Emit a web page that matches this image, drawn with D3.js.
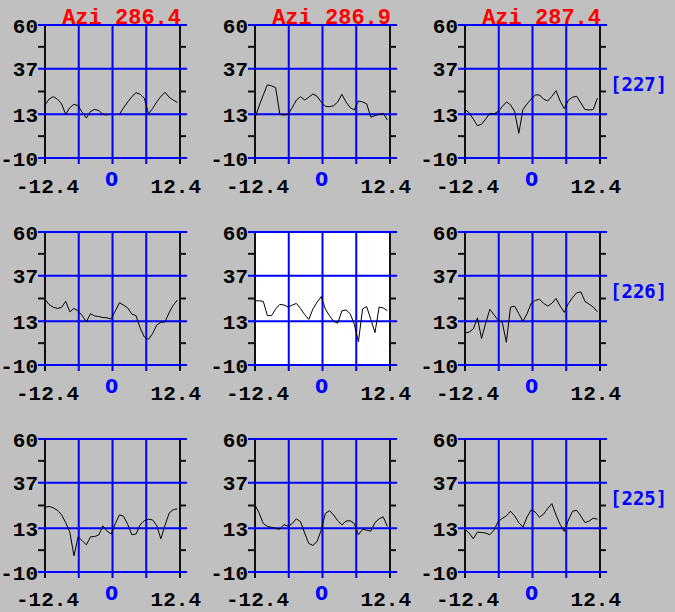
<!DOCTYPE html>
<html>
<head>
<meta charset="utf-8">
<script src="https://cdn.jsdelivr.net/npm/d3@7/dist/d3.min.js"></script>
<style>
  html, body { margin: 0; padding: 0; background: #c0c0c0; }
  svg { display: block; }
  .tick { font-family: 'Liberation Mono', 'Courier New', monospace; font-weight: bold; font-size: 21px; fill: #000; }
  .azi { font-family: 'Liberation Mono', 'Courier New', monospace; font-weight: bold; font-size: 22px; fill: #ff0000; }
  .zero { font-family: 'DejaVu Sans', sans-serif; font-weight: bold; font-size: 19px; fill: #0000ff; }
  .row { font-family: 'DejaVu Sans Mono', monospace; font-weight: bold; font-size: 19px; fill: #0000ff; }
</style>
</head>
<body>
<div class="canvas"></div>
<script>
// ---- data ----
const aziLabels = ['Azi 286.4', 'Azi 286.9', 'Azi 287.4'];
const rowLabels = ['[227]', '[226]', '[225]'];

const yTicks = [60, 37, 13, -10];
const yMinor = [48.5, 25, 1.5];
const xTicks = [-12.4, -6.2, 0, 6.2, 12.4];

// lag of every sample (shared by all traces)
const lags = [-12.40, -11.64, -10.88, -10.12, -9.36, -8.60, -7.84, -7.08, -6.32, -5.56,
  -4.80, -4.04, -3.28, -2.52, -1.76, -1.00, -0.24, 0.52, 1.28, 2.04, 2.80, 3.56, 4.32,
  5.08, 5.84, 6.60, 7.36, 8.12, 8.88, 9.64, 10.40, 11.16, 11.92];

// row [227]
const tr227a = [17.9, 21.0, 22.3, 21.0, 18.5, 13.0, 16.5, 18.3, 17.5, 14.0, 11.0, 14.5, 15.6,
  15.0, 13.0, 12.6, null, null, 13.0, 16.5, 19.5, 22.3, 24.4, 23.5, 21.5, 13.2, 16.0, 19.5,
  22.3, 24.6, 22.0, 20.5, 19.3];
const tr227b = [11.0, 17.5, 23.2, 28.5, 28.0, 27.0, 13.0, 12.6, 13.0, 16.5, 20.5, 22.3, 20.5,
  22.0, 23.7, 22.5, 19.5, 17.2, 17.0, 17.5, 19.5, 23.5, 19.5, 16.5, 15.3, 20.0, 19.5, 18.5,
  11.5, 12.3, 13.0, 13.5, 10.0];
const tr227c = [15.6, 13.8, 10.5, 7.0, 7.8, 10.5, 13.5, 13.2, 14.5, 17.0, 19.5, 18.0, 14.5,
  3.0, 15.5, 18.5, 21.0, 23.2, 23.2, 21.0, 20.0, 22.5, 25.4, 20.0, 16.0, 20.5, 22.0, 22.5,
  19.0, 15.5, 15.3, 15.5, 21.5];

// row [226]
const tr226a = [24.6, 21.8, 20.4, 19.8, 20.3, 23.5, 18.0, 19.8, 18.5, 16.0, 12.7, 17.0, 15.8,
  15.5, 15.0, 14.8, 14.2, 18.5, 22.8, 21.5, 20.0, 16.8, 16.0, 9.5, 4.8, 3.5, 6.5, 11.0,
  12.5, 12.7, 17.5, 21.5, 24.2];
const tr226b = [23.8, 23.8, 23.5, 16.0, 16.0, 19.5, 21.9, 21.6, 20.5, 21.5, 22.4, 19.8, 16.5,
  14.0, 19.5, 23.0, 26.0, 19.5, 16.0, 13.0, 12.0, 18.5, 19.0, 17.0, 11.5, 2.2, 19.5, 20.7,
  14.0, 7.0, 20.5, 20.0, 18.6];
const tr226c = [7.0, 7.3, 9.0, 14.8, 4.0, 12.0, 19.3, 16.5, 13.5, 12.5, 2.0, 20.5, 21.0,
  17.0, 13.0, 17.0, 22.5, 24.0, 24.6, 22.5, 21.0, 22.5, 25.0, 21.0, 17.7, 22.4, 25.5, 28.0,
  28.5, 23.5, 22.0, 20.5, 18.0];

// row [225]
const tr225a = [24.1, 24.5, 23.8, 22.5, 20.1, 16.0, 11.0, -1.5, 8.5, 6.5, 4.3, 8.5, 8.7,
  9.5, 14.3, 11.5, 10.0, 15.5, 20.1, 19.3, 15.0, 9.6, 10.0, 14.8, 17.0, 17.8, 17.4, 14.5,
  7.5, 14.5, 21.0, 22.8, 23.2];
const tr225b = [25.3, 21.0, 15.5, 14.0, 13.5, 13.0, 12.5, 15.0, 14.0, 15.5, 18.0, 16.5, 10.5,
  5.0, 4.0, 6.0, 12.0, 20.8, 22.3, 20.0, 17.0, 14.8, 16.8, 17.0, 15.5, 9.6, 12.5, 12.0,
  11.5, 16.0, 18.0, 19.0, 14.0];
const tr225c = [12.5, 10.5, 7.5, 11.0, 10.8, 10.5, 9.6, 12.0, 16.5, 18.2, 19.5, 22.0, 19.5,
  16.0, 13.6, 19.0, 22.7, 21.5, 18.8, 20.5, 23.5, 26.0, 20.0, 15.0, 11.3, 17.4, 22.0, 22.5,
  19.5, 16.0, 16.8, 18.3, 17.8];

const traces = [
  [tr227a, tr227b, tr227c],
  [tr226a, tr226b, tr226c],
  [tr225a, tr225b, tr225c]
];

// ---- layout ----
const dims = { w: 675, h: 612, pw: 135, ph: 133 };
const colX = [45, 255, 465];
const rowY = [25, 232, 439];
const highlight = { r: 1, c: 1 };

const svg = d3.select('.canvas')
  .append('svg')
    .attr('width', dims.w)
    .attr('height', dims.h);

svg.append('rect')
  .attr('width', dims.w)
  .attr('height', dims.h)
  .attr('fill', '#c0c0c0');

const x = d3.scaleLinear().domain([-12.4, 12.4]).range([0, dims.pw]);
const y = d3.scaleLinear().domain([-10, 60]).range([dims.ph, 0]);

const line = d3.line()
  .defined(d => d[1] !== null)
  .x(d => x(d[0]))
  .y(d => y(d[1]));

const fmtX = d => d === 0 ? '0' : d.toFixed(1);

traces.forEach((row, r) => {
  row.forEach((vals, c) => {
    const g = svg.append('g')
      .attr('transform', `translate(${colX[c]},${rowY[r]})`);

    if (r === highlight.r && c === highlight.c) {
      g.append('rect')
        .attr('width', dims.pw)
        .attr('height', dims.ph)
        .attr('fill', '#fff');
    }

    // black frame sides with bottom tick
    g.selectAll('line.axis')
      .data([x.range()[0], x.range()[1]])
      .enter().append('line')
        .attr('class', 'axis')
        .attr('x1', d => d).attr('x2', d => d)
        .attr('y1', 0).attr('y2', dims.ph + 6)
        .attr('stroke', '#111')
        .attr('stroke-width', 2);

    // minor ticks on both sides
    g.selectAll('line.minl')
      .data(yMinor)
      .enter().append('line')
        .attr('class', 'minl')
        .attr('x1', -7).attr('x2', 0)
        .attr('y1', d => y(d)).attr('y2', d => y(d))
        .attr('stroke', '#111')
        .attr('stroke-width', 2);

    g.selectAll('line.minr')
      .data(yMinor)
      .enter().append('line')
        .attr('class', 'minr')
        .attr('x1', dims.pw).attr('x2', dims.pw + 6)
        .attr('y1', d => y(d)).attr('y2', d => y(d))
        .attr('stroke', '#111')
        .attr('stroke-width', 2);

    // blue grid
    g.selectAll('line.gx')
      .data(xTicks.slice(1, -1))
      .enter().append('line')
        .attr('class', 'gx')
        .attr('x1', d => x(d)).attr('x2', d => x(d))
        .attr('y1', 0).attr('y2', dims.ph + 6)
        .attr('stroke', '#0000ff')
        .attr('stroke-width', 2);

    g.selectAll('line.gy')
      .data(yTicks)
      .enter().append('line')
        .attr('class', 'gy')
        .attr('x1', -7).attr('x2', dims.pw + 7)
        .attr('y1', d => y(d)).attr('y2', d => y(d))
        .attr('stroke', '#0000ff')
        .attr('stroke-width', 2);

    // trace
    g.append('path')
      .datum(lags.map((l, i) => [l, vals[i]]))
      .attr('d', line)
      .attr('fill', 'none')
      .attr('stroke', '#000')
      .attr('stroke-width', 1);

    // y tick labels
    g.selectAll('text.yt')
      .data(yTicks)
      .enter().append('text')
        .attr('class', 'tick')
        .attr('x', -7)
        .attr('y', d => y(d) + 7.5)
        .attr('text-anchor', 'end')
        .text(d => d);

    // x tick labels (kept inside the page at the bottom row)
    const xLabY = Math.min(dims.ph + 35, dims.h - rowY[r] - 6.5);

    g.append('text')
      .attr('class', 'tick')
      .attr('x', x(xTicks[0]) + 2.5)
      .attr('y', xLabY)
      .attr('text-anchor', 'middle')
      .text(fmtX(xTicks[0]));

    g.append('text')
      .attr('class', 'tick')
      .attr('x', x(xTicks[4]) + 21)
      .attr('y', xLabY)
      .attr('text-anchor', 'end')
      .text(fmtX(xTicks[4]));

    g.append('text')
      .attr('class', 'zero')
      .attr('x', x(0) - 1)
      .attr('y', dims.ph + 28)
      .attr('text-anchor', 'middle')
      .text(fmtX(0));

    if (r === 0) {
      g.append('text')
        .attr('class', 'azi')
        .attr('x', dims.pw + 1)
        .attr('y', -1.5)
        .attr('text-anchor', 'end')
        .text(aziLabels[c]);
    }

    if (c === 2) {
      g.append('text')
        .attr('class', 'row')
        .attr('x', dims.pw + 10)
        .attr('y', 66)
        .text(rowLabels[r]);
    }
  });
});
</script>
</body>
</html>
